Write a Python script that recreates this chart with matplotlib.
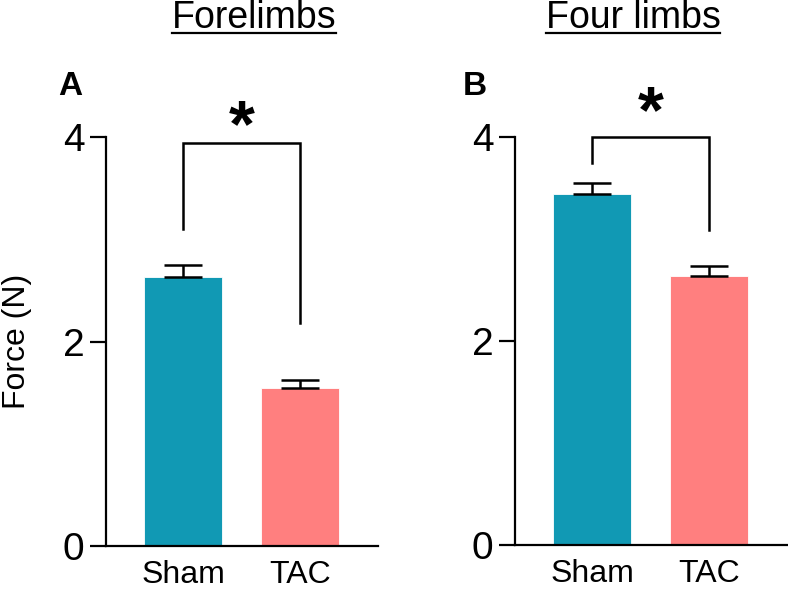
import numpy as np
import matplotlib
matplotlib.use("Agg")
import matplotlib.pyplot as plt
from matplotlib.lines import Line2D

plt.rcParams['font.family'] = ['Liberation Sans', 'DejaVu Sans']

# data
groups = ["Sham", "TAC"]
fore_mean = [2.63, 1.545]
fore_sem = [0.12, 0.075]
four_mean = [3.44, 2.64]
four_sem = [0.11, 0.095]
# significance brackets: top, left leg end, right leg end
fore_bracket = [3.94, 3.10, 2.18]
four_bracket = [4.00, 3.75, 3.09]

bar_colors = ["#1199b4", "#ff7f7f"]
W, H = 788, 590

fig = plt.figure(figsize=(W / 100, H / 100), dpi=100)
ax_a = fig.add_axes([106 / W, 1 - 546 / H, 272 / W, 409 / H])
ax_b = fig.add_axes([515 / W, 1 - 545 / H, 272 / W, 408 / H])


def draw_panel(ax, means, sems, bracket, star_gap, show_ylabel):
    x = np.arange(len(groups))
    ax.bar(x, means, width=0.67, color=bar_colors, edgecolor="white", linewidth=0.6, zorder=2)
    ax.errorbar(x, means, yerr=[np.zeros(len(sems)), sems], fmt="none", ecolor="black",
                elinewidth=1.8, capsize=14, capthick=1.8, zorder=3)
    # bracket
    top, y_left, y_right = bracket
    ax.plot([x[0], x[0], x[1], x[1]], [y_left, top, top, y_right], color="black",
            lw=1.8, clip_on=False, solid_joinstyle="miter")
    ax.text((x[0] + x[1]) / 2, top + star_gap, "*", ha="center", va="center",
            fontsize=48, fontweight="bold", clip_on=False)

    ax.set_xlim(-0.66, 1.67)
    ax.set_ylim(0, 4)
    ax.set_yticks([0, 2, 4])
    ax.set_xticks(x)
    ax.set_xticklabels(groups, fontsize=23)
    ax.tick_params(axis="x", length=0, pad=10)
    ax.tick_params(axis="y", length=11.5, width=1.6, labelsize=28, pad=4)
    for side in ["top", "right"]:
        ax.spines[side].set_visible(False)
    for side in ["left", "bottom"]:
        ax.spines[side].set_linewidth(1.6)
    if show_ylabel:
        ax.set_ylabel("Force (N)", fontsize=23, labelpad=22)


draw_panel(ax_a, fore_mean, fore_sem, fore_bracket, 0.14, True)
draw_panel(ax_b, four_mean, four_sem, four_bracket, 0.21, False)

# panel letters
fig.text(58 / W, 1 - 95 / H, "A", fontsize=24, fontweight="bold", ha="left", va="baseline")
fig.text(463 / W, 1 - 95 / H, "B", fontsize=24, fontweight="bold", ha="left", va="baseline")

# underlined titles
titles = [("Forelimbs", 254), ("Four limbs", 633)]
fig.canvas.draw()
for label, cx in titles:
    t = fig.text(cx / W, 1 - 28.5 / H, label, fontsize=27, ha="center", va="baseline")
    bb = t.get_window_extent(renderer=fig.canvas.get_renderer())
    fig.add_artist(Line2D([bb.x0 / W, bb.x1 / W], [1 - 32.5 / H] * 2,
                          transform=fig.transFigure, color="black", lw=1.6))

fig.savefig("out.png", dpi=100)
